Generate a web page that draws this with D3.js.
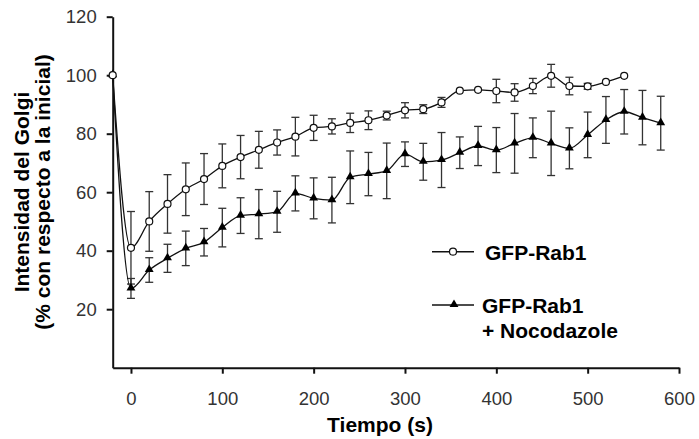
<!DOCTYPE html>
<html>
<head>
<meta charset="utf-8">
<script src="https://cdn.jsdelivr.net/npm/d3@7"></script>
<style>
	body { margin: 0; background: #fff; }
	svg { display: block; font-family: "Liberation Sans", Arial, sans-serif; }
</style>
</head>
<body>
<div id="chart"></div>
<script>
// tiempo (s) de cada medida
var times_rab1 = [-20, 0, 20, 40, 60, 80, 100, 120, 140, 160, 180, 200, 220, 240, 260, 280,
	300, 320, 340, 360, 380, 400, 420, 440, 460, 480, 500, 520, 540];
var values_rab1 = [100, 41, 50, 56, 61, 64.5, 69, 72, 74.5, 77, 79, 82, 82.5, 83.7, 84.6, 86.2,
	88, 88.4, 90.7, 94.7, 95, 94.6, 94.1, 96.3, 99.8, 96.3, 96.2, 97.7, 99.8];
var err_rab1 = [0, 12.4, 10.2, 10, 9, 8.7, 7.5, 7.4, 6.3, 4.3, 6.6, 4.3, 2.6, 3.3, 3.2, 1.5,
	2.6, 1.5, 1.7, 0, 0, 4, 3, 2.6, 3.9, 3, 1, 0, 0];

var times_noco = [-20, 0, 20, 40, 60, 80, 100, 120, 140, 160, 180, 200, 220, 240, 260, 280,
	300, 320, 340, 360, 380, 400, 420, 440, 460, 480, 500, 520, 540, 560, 580];
var values_noco = [100, 27.1, 33.4, 37.4, 40.8, 42.9, 47.9, 52, 52.5, 53.3, 59.6, 57.9, 57.3, 65.1, 66.2, 67.3,
	73, 70.4, 71, 73.5, 75.8, 74.4, 76.7, 78.6, 76.7, 75, 79.6, 84.7, 87.5, 85.5, 83.6];
var err_noco = [0, 3.4, 4.2, 4.8, 5.9, 4.7, 6.6, 6.1, 8.4, 7, 6, 7, 7.8, 9, 7.4, 9.5,
	4.2, 6.3, 9.4, 5.4, 6.7, 7.7, 10.2, 6.8, 11, 7, 7.8, 8, 7.6, 9.3, 9.2];

var x_ticks = [0, 100, 200, 300, 400, 500, 600];
var y_ticks = [20, 40, 60, 80, 100, 120];
var legend_labels = [["GFP-Rab1"], ["GFP-Rab1", "+ Nocodazole"]];

var width = 699, height = 439;

var svg = d3.select('#chart').append('svg')
	.attr('width', width).attr('height', height);

var x = d3.scaleLinear().domain([-20, 600]).range([112.7, 679]);
var y = d3.scaleLinear().domain([0, 120]).range([367.7, 16.7]);

function make_series(times, values, errs) {
	return times.map(function(t, i) { return {t: t, v: values[i], e: errs[i]}; });
}
var rab1 = make_series(times_rab1, values_rab1, err_rab1);
var noco = make_series(times_noco, values_noco, err_noco);

// ejes
var xAxis = svg.append('g').attr('transform', 'translate(0,' + y(0) + ')')
	.call(d3.axisBottom(x).tickValues(x_ticks).tickSize(6).tickSizeOuter(0).tickPadding(18));
var yAxis = svg.append('g').attr('transform', 'translate(' + x(-20) + ',0)')
	.call(d3.axisLeft(y).tickValues(y_ticks).tickSize(6).tickSizeOuter(0).tickPadding(10));

[xAxis, yAxis].forEach(function(ax) {
	ax.select('.domain').attr('stroke', '#111').attr('stroke-width', 2);
	ax.selectAll('.tick line').attr('stroke', '#111').attr('stroke-width', 2);
	ax.selectAll('.tick text').attr('fill', '#333').style('font-size', '18.5px')
		.style('font-family', '"Liberation Sans", Arial, sans-serif');
});

svg.append('text')
	.attr('x', 380).attr('y', 431.5)
	.attr('text-anchor', 'middle')
	.style('font-size', '21px').style('font-weight', 'bold')
	.text('Tiempo (s)');

var ylab = svg.append('text')
	.attr('transform', 'translate(28.5,' + 192 + ') rotate(-90)')
	.attr('text-anchor', 'middle')
	.style('font-size', '21px').style('font-weight', 'bold');
ylab.append('tspan').attr('x', 0).attr('y', 0).text('Intensidad del Golgi');
ylab.append('tspan').attr('x', 0).attr('y', 21.5).text('(% con respecto a la inicial)');

// barras de error
function draw_errors(data) {
	var g = svg.append('g').attr('stroke', '#333').attr('stroke-width', 1.3);
	var d = data.filter(function(p) { return p.e > 0; });
	g.selectAll('line.bar').data(d).enter().append('line')
		.attr('x1', function(p) { return x(p.t); }).attr('x2', function(p) { return x(p.t); })
		.attr('y1', function(p) { return y(p.v + p.e); }).attr('y2', function(p) { return y(p.v - p.e); });
	g.selectAll('line.top').data(d).enter().append('line')
		.attr('x1', function(p) { return x(p.t) - 4; }).attr('x2', function(p) { return x(p.t) + 4; })
		.attr('y1', function(p) { return y(p.v + p.e); }).attr('y2', function(p) { return y(p.v + p.e); });
	g.selectAll('line.bot').data(d).enter().append('line')
		.attr('x1', function(p) { return x(p.t) - 4; }).attr('x2', function(p) { return x(p.t) + 4; })
		.attr('y1', function(p) { return y(p.v - p.e); }).attr('y2', function(p) { return y(p.v - p.e); });
}
draw_errors(noco);
draw_errors(rab1);

var line = d3.line()
	.x(function(p) { return x(p.t); })
	.y(function(p) { return y(p.v); })
	.curve(d3.curveMonotoneX);

svg.append('path').datum(noco).attr('d', line)
	.attr('fill', 'none').attr('stroke', '#111').attr('stroke-width', 1.3);
svg.append('path').datum(rab1).attr('d', line)
	.attr('fill', 'none').attr('stroke', '#111').attr('stroke-width', 1.3);

var tri = d3.symbol().type(d3.symbolTriangle).size(34);

svg.selectAll('path.tri').data(noco).enter().append('path')
	.attr('class', 'tri')
	.attr('transform', function(p) { return 'translate(' + x(p.t) + ',' + (y(p.v) - 0.5) + ')'; })
	.attr('d', tri)
	.attr('fill', '#000');

svg.selectAll('circle.pt').data(rab1).enter().append('circle')
	.attr('class', 'pt')
	.attr('cx', function(p) { return x(p.t); })
	.attr('cy', function(p) { return y(p.v); })
	.attr('r', 3.5)
	.attr('fill', '#fff').attr('stroke', '#111').attr('stroke-width', 1.2);

// leyenda
var legend = svg.append('g');
var ly = [251.7, 305];
ly.forEach(function(yy, i) {
	legend.append('line').attr('x1', 432).attr('x2', 474).attr('y1', yy).attr('y2', yy)
		.attr('stroke', '#111').attr('stroke-width', 1.5);
	if (i == 0) {
		legend.append('circle').attr('cx', 453).attr('cy', yy).attr('r', 3.5)
			.attr('fill', '#fff').attr('stroke', '#111').attr('stroke-width', 1.2);
	} else {
		legend.append('path').attr('d', tri).attr('transform', 'translate(454,' + (yy - 0.5) + ')')
			.attr('fill', '#000');
	}
	var t = legend.append('text').style('font-size', '21px').style('font-weight', 'bold');
	legend_labels[i].forEach(function(s, k) {
		t.append('tspan').attr('x', i == 0 ? 485 : 482).attr('y', yy + 8 + k * 25).text(s);
	});
});
</script>
</body>
</html>
